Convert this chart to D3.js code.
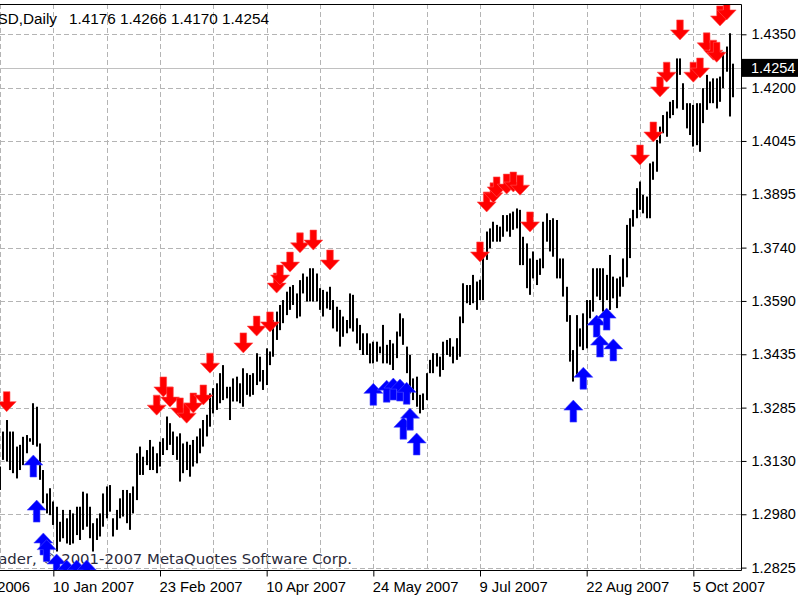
<!DOCTYPE html>
<html><head><meta charset="utf-8">
<script src="https://cdn.jsdelivr.net/npm/d3@7"></script>
<style>body{margin:0;background:#fff;} svg{display:block;}</style>
</head><body>
<svg id="chart" width="800" height="600"></svg>
<script>
// ---------- data ----------
const symbol = "EURUSD,Daily";
const lastOHLC = [1.4176, 1.4266, 1.4170, 1.4254];
const copyright = "MetaTrader, \u00A9 2001-2007 MetaQuotes Software Corp.";
const firstDate = new Date(2006, 10, 27); // slot 0 (weekdays only)
const slotCount = 240;
const firstBar = 16;
const highs = [
1.3114,1.3214,1.3247,1.3214,1.3214,1.3171,1.3176,1.3199,1.3204,1.3195,
1.3295,1.3285,1.3180,1.3104,1.3037,1.3052,1.3014,1.2999,1.2956,1.2990,
1.2966,1.2990,1.2980,1.2999,1.2999,1.3042,1.3037,1.2999,1.2952,1.2966,
1.2980,1.3037,1.3057,1.3061,1.2966,1.2990,1.3023,1.3047,1.3047,1.3038,
1.3057,1.3152,1.3171,1.3142,1.3161,1.3190,1.3171,1.3152,1.3185,1.3195,
1.3257,1.3238,1.3214,1.3200,1.3209,1.3180,1.3185,1.3176,1.3190,1.3200,
1.3223,1.3247,1.3262,1.3323,1.3338,1.3352,1.3381,1.3404,1.3342,1.3342,
1.3366,1.3371,1.3352,1.3395,1.3381,1.3376,1.3381,1.3438,1.3428,1.3390,
1.3452,1.3443,1.3533,1.3557,1.3576,1.3590,1.3614,1.3628,1.3633,1.3609,
1.3647,1.3666,1.3657,1.3681,1.3681,1.3666,1.3624,1.3619,1.3614,1.3628,
1.3590,1.3571,1.3562,1.3543,1.3533,1.3609,1.3605,1.3538,1.3519,1.3495,
1.3495,1.3466,1.3471,1.3471,1.3457,1.3519,1.3462,1.3476,1.3466,1.3500,
1.3552,1.3538,1.3457,1.3433,1.3366,1.3371,1.3319,1.3323,1.3381,1.3419,
1.3438,1.3438,1.3428,1.3471,1.3476,1.3481,1.3457,1.3481,1.3543,1.3638,
1.3633,1.3633,1.3662,1.3643,1.3648,1.3714,1.3786,1.3795,1.3814,1.3805,
1.3800,1.3833,1.3833,1.3838,1.3843,1.3852,1.3848,1.3771,1.3752,1.3709,
1.3729,1.3705,1.3709,1.3814,1.3838,1.3819,1.3824,1.3819,1.3709,1.3709,
1.3628,1.3547,1.3447,1.3547,1.3509,1.3552,1.3590,1.3590,1.3681,1.3681,
1.3681,1.3681,1.3662,1.3719,1.3657,1.3652,1.3657,1.3709,1.3805,1.3824,
1.3848,1.3910,1.3929,1.3891,1.3886,1.3981,1.3986,1.4048,1.4086,1.4119,
1.4129,1.4157,1.4162,1.4281,1.4281,1.4210,1.4153,1.4153,1.4148,1.4153,
1.4153,1.4196,1.4234,1.4215,1.4224,1.4224,1.4229,1.4300,1.4315,1.4353,1.4266];
const lows = [
1.3047,1.3133,1.3128,1.3104,1.3095,1.3080,1.3104,1.3118,1.3152,1.3185,
1.3176,1.3171,1.3076,1.3009,1.2980,1.2975,1.2947,1.2871,1.2899,1.2909,
1.2894,1.2890,1.2894,1.2918,1.2904,1.2933,1.2942,1.2909,1.2871,1.2904,
1.2914,1.2942,1.2966,1.2985,1.2914,1.2933,1.2966,1.2971,1.2952,1.2933,
1.2980,1.3018,1.3090,1.3090,1.3118,1.3104,1.3104,1.3095,1.3114,1.3147,
1.3161,1.3176,1.3147,1.3133,1.3071,1.3095,1.3104,1.3085,1.3114,1.3123,
1.3152,1.3171,1.3200,1.3228,1.3266,1.3276,1.3295,1.3304,1.3309,1.3247,
1.3300,1.3300,1.3295,1.3285,1.3319,1.3314,1.3319,1.3347,1.3357,1.3333,
1.3347,1.3404,1.3428,1.3476,1.3504,1.3524,1.3547,1.3562,1.3576,1.3538,
1.3543,1.3609,1.3586,1.3586,1.3586,1.3586,1.3562,1.3543,1.3566,1.3562,
1.3509,1.3500,1.3457,1.3485,1.3495,1.3509,1.3500,1.3466,1.3447,1.3433,
1.3433,1.3409,1.3409,1.3414,1.3438,1.3409,1.3409,1.3405,1.3390,1.3424,
1.3486,1.3462,1.3381,1.3323,1.3304,1.3285,1.3266,1.3276,1.3304,1.3381,
1.3381,1.3400,1.3371,1.3390,1.3433,1.3428,1.3409,1.3419,1.3428,1.3524,
1.3581,1.3576,1.3581,1.3562,1.3590,1.3590,1.3705,1.3738,1.3757,1.3757,
1.3757,1.3771,1.3786,1.3771,1.3791,1.3795,1.3690,1.3690,1.3624,1.3605,
1.3652,1.3633,1.3662,1.3681,1.3757,1.3729,1.3714,1.3652,1.3652,1.3600,
1.3528,1.3414,1.3357,1.3371,1.3457,1.3447,1.3452,1.3538,1.3557,1.3600,
1.3590,1.3557,1.3590,1.3562,1.3595,1.3567,1.3600,1.3628,1.3655,1.3710,
1.3800,1.3824,1.3848,1.3838,1.3824,1.3824,1.3934,1.3957,1.4038,1.4067,
1.4057,1.4110,1.4119,1.4138,1.4234,1.4134,1.4081,1.4062,1.4029,1.4033,
1.4014,1.4096,1.4134,1.4153,1.4153,1.4138,1.4157,1.4196,1.4243,1.4115,1.4170];
// signal arrows: [bar slot, tip price]
const redArrows = [
[18,1.3271],[63,1.3261],[65,1.3313],[67,1.3284],[70,1.3253],[72,1.3238],[74,1.3267],[77,1.3290],[79,1.3381],
[89,1.3439],[93,1.3487],[97,1.3499],[99,1.3610],[100,1.3633],[103,1.3670],[106,1.3725],[110,1.3733],[115,1.3676],
[160,1.3699],[162,1.3842],[164,1.3868],[165,1.3885],[168,1.3893],[170,1.3899],[172,1.3890],[175,1.3785],
[208,1.3976],[212,1.4042],[214,1.4171],[216,1.4213],[220,1.4334],[224,1.4213],[226,1.4225],[228,1.4297],
[230,1.4276],[231,1.4270],[232,1.4374],[234,1.4391]];
const blueArrows = [
[26,1.3147],[27,1.3018],[29,1.2924],[30,1.2905],[33,1.2864],[36,1.2847],[39,1.2847],[42,1.2847],
[128,1.3352],[132,1.3361],[134,1.3367],[136,1.3364],[138,1.3355],[137,1.3255],[139,1.3281],[141,1.3210],
[188,1.3304],[191,1.3398],[195,1.3547],[198,1.3567],[196,1.3490],[200,1.3479]];
const yTickValues = d3.range(11).map(i => 1.2825 + i * 0.01525);
const yTickLabels = ["1.2825","1.2980","1.3130","1.3285","1.3435","1.3590","1.3740","1.3895","1.4045","1.4200","1.4350"];
const labelEvery = 32, gridEvery = 16;

(function draw() {
const W = 800, H = 600;
const pL = 0, pR = 741, pT = 4, pB = 570;
const svg = d3.select("#chart");
const FONT = "'Liberation Sans', Arial, sans-serif";
const FONT2 = "'DejaVu Sans', Verdana, sans-serif";

const dates = [];
{ const d = new Date(firstDate); while (dates.length < slotCount) { const wd = d.getDay(); if (wd !== 0 && wd !== 6) dates.push(new Date(d)); d.setDate(d.getDate() + 1); } }
const fmt = d3.timeFormat("%-d %b %Y");

const x = d3.scaleLinear().domain([0, slotCount]).range([-53.333, 746.667]);
const y = d3.scaleLinear().domain([1.2825, 1.4350]).range([567.6, 34.3]);

svg.append("rect").attr("width", W).attr("height", H).attr("fill", "#fff");
svg.append("defs").append("clipPath").attr("id", "plot")
  .append("rect").attr("x", pL).attr("y", pT).attr("width", pR - pL).attr("height", pB - pT);

svg.append("text").attr("x", 352).attr("y", 564).attr("text-anchor", "end")
  .attr("font-family", FONT2).attr("font-size", 14.9).attr("fill", "#2a2a3a").text(copyright);

const plot = svg.append("g").attr("clip-path", "url(#plot)");
plot.selectAll(".hg").data(yTickValues).join("line")
  .attr("x1", pL).attr("x2", pR)
  .attr("y1", d => Math.round(y(d)) + 0.5).attr("y2", d => Math.round(y(d)) + 0.5)
  .attr("stroke", "#b4b4b4").attr("stroke-dasharray", "5,3");
const vgrid = d3.range(0, slotCount + 1, gridEvery).filter(i => x(i) >= 0 && x(i) <= pR);
plot.selectAll(".vg").data(vgrid).join("line")
  .attr("x1", d => Math.round(x(d)) + 0.5).attr("x2", d => Math.round(x(d)) + 0.5)
  .attr("y1", pT).attr("y2", pB)
  .attr("stroke", "#b4b4b4").attr("stroke-dasharray", "5,3");
const cp = lastOHLC[3];
plot.append("line").attr("x1", pL).attr("x2", pR)
  .attr("y1", Math.round(y(cp)) + 0.5).attr("y2", Math.round(y(cp)) + 0.5)
  .attr("stroke", "#c0c0c0");
const bars = highs.map((h, i) => ({ i: firstBar + i, h, l: lows[i] }));
plot.selectAll(".bar").data(bars).join("rect")
  .attr("x", d => Math.round(x(d.i)) - 1).attr("width", 2)
  .attr("y", d => y(d.h)).attr("height", d => Math.max(1, y(d.l) - y(d.h)))
  .attr("fill", "#000");
const downPath = "M0,0 L-9.5,-10 L-3.3,-10 L-3.3,-20 L3.3,-20 L3.3,-10 L9.5,-10 Z";
const upPath = "M0,0 L-9.5,10 L-3.3,10 L-3.3,22 L3.3,22 L3.3,10 L9.5,10 Z";
plot.selectAll(".ra").data(redArrows).join("path")
  .attr("d", downPath).attr("fill", "#ff0000").attr("stroke", "#ff5050").attr("stroke-width", 0.6)
  .attr("transform", d => `translate(${x(d[0])},${y(d[1])})`);
plot.selectAll(".ba").data(blueArrows).join("path")
  .attr("d", upPath).attr("fill", "#0000ff").attr("stroke", "#4848ff").attr("stroke-width", 0.6)
  .attr("transform", d => `translate(${x(d[0])},${y(d[1])})`);

svg.append("path").attr("d", `M${pL},${pT + 0.5}H${pR + 0.5}V${pB + 0.5}H${pL}`)
  .attr("fill", "none").attr("stroke", "#000");

const yAxis = d3.axisRight(y).tickValues(yTickValues).tickSize(5).tickPadding(5)
  .tickFormat((d, i) => yTickLabels[i]);
const ya = svg.append("g").attr("transform", `translate(${pR + 0.5},0)`).call(yAxis);
ya.select(".domain").remove();
ya.selectAll("text").attr("font-family", FONT).attr("font-size", 14.5).attr("fill", "#000");
ya.selectAll("line").attr("stroke", "#000");

svg.append("rect").attr("x", 742).attr("y", y(cp) - 9).attr("width", 56).attr("height", 18).attr("fill", "#000");
svg.append("text").attr("x", 751).attr("y", y(cp)).attr("dy", "0.36em")
  .attr("font-family", FONT).attr("font-size", 14.5).attr("fill", "#fff").text(cp.toFixed(4));

const xAxis = d3.axisBottom(x).tickValues(d3.range(0, slotCount, labelEvery)).tickSize(6).tickPadding(5)
  .tickFormat(i => fmt(dates[i]));
const xa = svg.append("g").attr("transform", `translate(0,${pB + 0.5})`).call(xAxis);
xa.select(".domain").remove();
xa.selectAll("text").attr("text-anchor", "start").attr("dx", -1)
  .attr("font-family", FONT).attr("font-size", 14.8).attr("fill", "#000");
xa.selectAll("line").attr("stroke", "#000");

svg.append("text").attr("x", 57).attr("y", 24).attr("text-anchor", "end")
  .attr("font-family", FONT).attr("font-size", 15.3).attr("fill", "#000").text(symbol);
svg.append("text").attr("x", 69).attr("y", 24)
  .attr("font-family", FONT).attr("font-size", 15.3).attr("fill", "#000")
  .text(lastOHLC.map(v => v.toFixed(4)).join(" "));
})();
</script>
</body></html>
